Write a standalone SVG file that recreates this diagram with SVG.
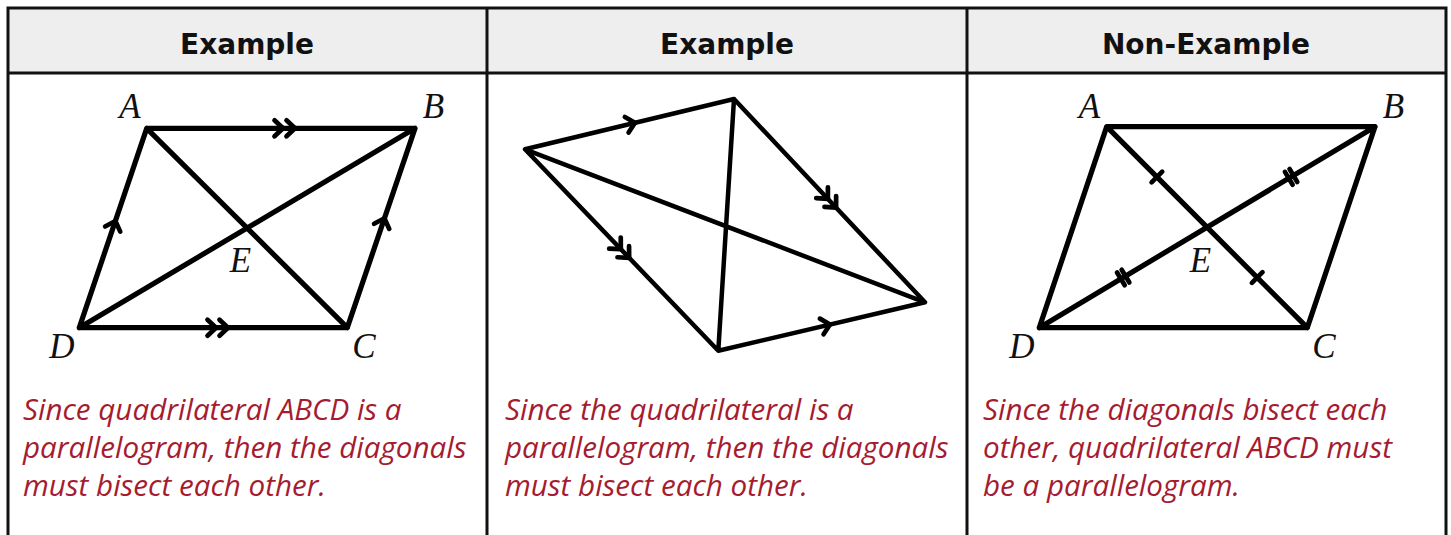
<svg xmlns="http://www.w3.org/2000/svg" width="1451" height="535" viewBox="0 0 1451 535">
<style>
.hdr{font-family:"DejaVu Sans","Liberation Sans",sans-serif;font-weight:bold;font-size:28px;fill:#111;text-anchor:middle}
.lbl{font-family:"Liberation Serif","DejaVu Serif",serif;font-style:italic;font-size:35px;fill:#111;text-anchor:middle}
.body{font-family:"Open Sans","Noto Sans",sans-serif;font-style:italic;font-size:29.6px;fill:#a51c30}
.edge{fill:none;stroke:#000;stroke-width:5.2;stroke-linecap:round;stroke-linejoin:round}
.edge2{fill:none;stroke:#000;stroke-width:4.5;stroke-linecap:round;stroke-linejoin:round}
.mark{fill:none;stroke:#000;stroke-width:4.7;stroke-linecap:round;stroke-linejoin:round}
.grid{fill:none;stroke:#111;stroke-width:3}
</style>
<defs>
<path id="ch1" d="M -8.5 -8 L 0 0 L -8.5 8"/>
<path id="ch2" d="M -14.5 -8 L -6 0 L -14.5 8 M -2.5 -8 L 6 0 L -2.5 8"/>
<path id="tk1" d="M 0 -7.5 L 0 7.5"/>
<path id="tk2" d="M -2.7 -7.5 L -2.7 7.5 M 2.7 -7.5 L 2.7 7.5"/>
</defs>
<rect x="0" y="0" width="1451" height="535" fill="#fff"/>
<g id="table">
<rect x="8" y="8" width="1438" height="65" fill="#eeeeee"/>
<path class="grid" d="M 8 540 L 8 8 L 1446 8 L 1446 540 M 8 73 L 1446 73 M 487 8 L 487 540 M 967 8 L 967 540"/>
<text class="hdr" x="247" y="54">Example</text>
<text class="hdr" x="727" y="54">Example</text>
<text class="hdr" x="1206" y="54">Non-Example</text>
</g>
<g id="panel1">
<path class="edge" d="M 146.7 128.3 L 415 128.3 L 347.3 327.7 L 79.3 327.7 Z M 146.7 128.3 L 347.3 327.7 M 79.3 327.7 L 415 128.3"/>
<use href="#ch2" class="mark" transform="translate(289 128.3)"/>
<use href="#ch2" class="mark" transform="translate(222 327.7)"/>
<use href="#ch1" class="mark" transform="translate(115.4 221) rotate(-71.3)"/>
<use href="#ch1" class="mark" transform="translate(384.4 218.3) rotate(-71.3)"/>
<text class="lbl" x="130" y="118">A</text>
<text class="lbl" x="433.5" y="118">B</text>
<text class="lbl" x="364" y="358">C</text>
<text class="lbl" x="62" y="358">D</text>
<text class="lbl" x="240.5" y="272">E</text>
<text class="body" x="23" y="420">Since quadrilateral ABCD is a</text>
<text class="body" x="23" y="458">parallelogram, then the diagonals</text>
<text class="body" x="23" y="496">must bisect each other.</text>
</g>
<g id="panel2">
<path class="edge2" d="M 525 149.3 L 734 99 L 925 302.3 L 718.3 350.7 Z M 525 149.3 L 925 302.3 M 734 99 L 718.3 350.7"/>
<use href="#ch1" class="mark" transform="translate(635 122.8) rotate(-13.5)"/>
<use href="#ch1" class="mark" transform="translate(830 324.5) rotate(-13.2)"/>
<use href="#ch2" class="mark" transform="translate(832 203.3) rotate(46.8)"/>
<use href="#ch2" class="mark" transform="translate(625 253.5) rotate(46.2)"/>
<text class="body" x="505" y="420">Since the quadrilateral is a</text>
<text class="body" x="505" y="458">parallelogram, then the diagonals</text>
<text class="body" x="505" y="496">must bisect each other.</text>
</g>
<g id="panel3">
<path class="edge" d="M 1106.7 126.7 L 1375 126.7 L 1307.3 327.7 L 1039.3 327.7 Z M 1106.7 126.7 L 1307.3 327.7 M 1039.3 327.7 L 1375 126.7"/>
<use href="#tk1" class="mark" transform="translate(1156.9 177) rotate(45)"/>
<use href="#tk1" class="mark" transform="translate(1257.2 277.5) rotate(45)"/>
<use href="#tk2" class="mark" transform="translate(1123.2 277.5) rotate(-30.9)"/>
<use href="#tk2" class="mark" transform="translate(1291.1 176.9) rotate(-30.9)"/>
<text class="lbl" x="1089.5" y="118">A</text>
<text class="lbl" x="1393.5" y="118">B</text>
<text class="lbl" x="1324" y="358">C</text>
<text class="lbl" x="1022" y="358">D</text>
<text class="lbl" x="1200.5" y="272">E</text>
<text class="body" x="983" y="420">Since the diagonals bisect each</text>
<text class="body" x="983" y="458">other, quadrilateral ABCD must</text>
<text class="body" x="983" y="496">be a parallelogram.</text>
</g>
</svg>
